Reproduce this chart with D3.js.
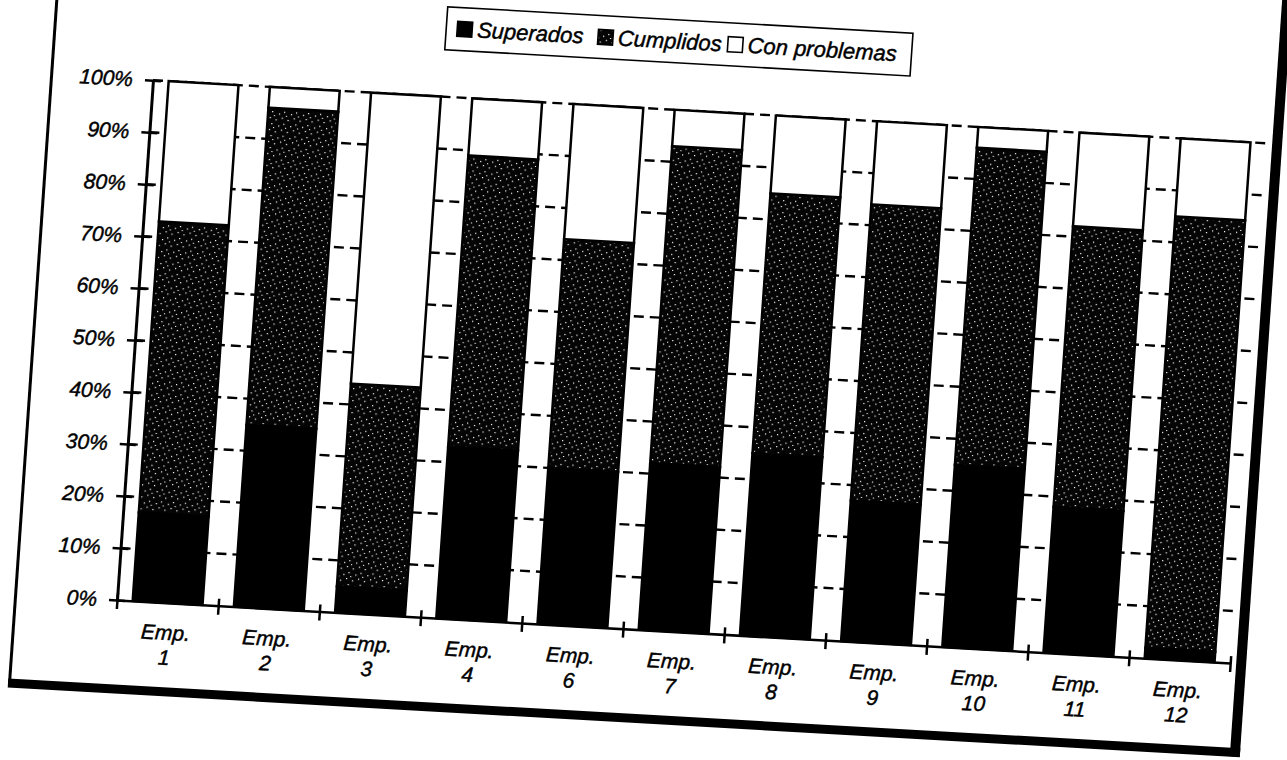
<!DOCTYPE html>
<html>
<head>
<meta charset="utf-8">
<script src="https://cdn.jsdelivr.net/npm/d3@7/dist/d3.min.js"></script>
<style>
  html, body { margin: 0; padding: 0; background: #fff; }
  svg { display: block; }
  text { font-family: "Liberation Sans", Arial, Helvetica, sans-serif; font-style: italic; fill: #000; stroke: #000; stroke-width: 0.45px; }
</style>
</head>
<body>
<svg id="chart" width="1287" height="760"></svg>
<script>
// ---- data (percent of each company's total) ----
const categories   = ["Emp. 1", "Emp. 2", "Emp. 3", "Emp. 4", "Emp. 6", "Emp. 7", "Emp. 8", "Emp. 9", "Emp. 10", "Emp. 11", "Emp. 12"];
const superados    = [17, 35,  5, 33, 30, 32, 35, 27, 35, 28,  2];
const cumplidos    = [56, 61, 39, 56, 44, 61, 50, 57, 61, 54, 83];
const conProblemas = [27,  4, 56, 11, 26,  7, 15, 16,  4, 18, 15];
const seriesNames  = ["Superados", "Cumplidos", "Con problemas"];
const yTickValues  = [0, 10, 20, 30, 40, 50, 60, 70, 80, 90, 100];

// ---- layout ----
const W = 1287, H = 760;
const plot = { left: 117, right: 1232, top: 79, bottom: 600 };

const svg = d3.select("#chart");
svg.append("rect").attr("width", W).attr("height", H).attr("fill", "#fff");

// dotted fill used for "Cumplidos"
const defs = svg.append("defs");
const pat = defs.append("pattern")
  .attr("id", "dotted")
  .attr("patternUnits", "userSpaceOnUse")
  .attr("width", 12).attr("height", 12);
pat.append("rect").attr("width", 12).attr("height", 12).attr("fill", "#050505");
[[2, 3], [8, 1], [10, 7], [5, 9], [0, 11]].forEach(([px, py]) => {
  pat.append("rect").attr("x", px).attr("y", py).attr("width", 1.2).attr("height", 1.2).attr("fill", "#fff");
});
const fills = { "Superados": "#000", "Cumplidos": "url(#dotted)", "Con problemas": "#fff" };

// the whole sheet sits slightly tilted on the page
const tiltX = 3.24 * Math.PI / 180, tiltY = 3.96 * Math.PI / 180;
const page = svg.append("g")
  .attr("transform",
    `translate(${plot.left},${plot.bottom}) matrix(${Math.cos(tiltX)},${Math.sin(tiltX)},${-Math.sin(tiltY)},${Math.cos(tiltY)},0,0) translate(${-plot.left},${-plot.bottom})`);

// ---- scales ----
const x = d3.scaleBand()
  .domain(categories)
  .range([plot.left, plot.right])
  .paddingInner(0.31)
  .paddingOuter(0.155);
const xEdges = d3.scaleLinear().domain([0, categories.length]).range([plot.left, plot.right]);
const y = d3.scaleLinear().domain([0, 100]).range([plot.bottom, plot.top]);

// ---- chart area frame (thin left edge, heavy shadowed bottom/right) ----
const frame = page.append("g").attr("fill", "none").attr("stroke", "#000");
frame.append("line").attr("x1", 15.5).attr("y1", -90).attr("x2", 15.5).attr("y2", 690).attr("stroke-width", 3);
frame.append("line").attr("x1", 14).attr("y1", 689).attr("x2", 1248).attr("y2", 689).attr("stroke-width", 9);
frame.append("line").attr("x1", 1243).attr("y1", -90).attr("x2", 1243).attr("y2", 693).attr("stroke-width", 10);

// ---- dashed gridlines ----
page.append("g")
  .selectAll("line")
  .data(yTickValues.filter(v => v > 0))
  .join("line")
  .attr("x1", plot.left).attr("x2", plot.right)
  .attr("y1", d => y(d)).attr("y2", d => y(d))
  .attr("stroke", "#000").attr("stroke-width", 2.4)
  .attr("stroke-dasharray", "10,6");

// ---- stacked columns ----
const rows = categories.map((c, i) => ({
  cat: c,
  "Superados": superados[i],
  "Cumplidos": cumplidos[i],
  "Con problemas": conProblemas[i]
}));
const stacked = d3.stack().keys(seriesNames)(rows);

page.append("g")
  .selectAll("g")
  .data(stacked)
  .join("g")
  .attr("fill", s => fills[s.key])
  .selectAll("rect")
  .data(s => s)
  .join("rect")
  .attr("x", d => x(d.data.cat))
  .attr("width", x.bandwidth())
  .attr("y", d => y(d[1]))
  .attr("height", d => y(d[0]) - y(d[1]))
  .attr("stroke", "#000")
  .attr("stroke-width", 2.5);

// ---- y axis ----
const yAxis = page.append("g")
  .attr("transform", `translate(${plot.left},0)`)
  .call(d3.axisLeft(y).tickValues(yTickValues).tickFormat(d => d + "%")
    .tickSize(8).tickSizeOuter(0).tickPadding(12));
yAxis.attr("font-size", 21);
yAxis.select(".domain").attr("stroke-width", 3);
yAxis.selectAll(".tick line").attr("x1", 8).attr("stroke-width", 2.5);

// ---- x axis: boundary ticks ----
const xTicks = page.append("g")
  .attr("transform", `translate(0,${plot.bottom})`)
  .call(d3.axisBottom(xEdges).tickValues(d3.range(categories.length + 1))
    .tickFormat(() => "").tickSize(9).tickSizeOuter(0));
xTicks.select(".domain").attr("stroke-width", 2.5);
xTicks.selectAll(".tick line").attr("y1", -7).attr("stroke-width", 2.5);

// ---- x axis: two-line category labels ----
const xLabels = page.append("g")
  .attr("transform", `translate(0,${plot.bottom})`)
  .call(d3.axisBottom(x).tickSize(0).tickSizeOuter(0));
xLabels.attr("font-size", 21);
xLabels.select(".domain").remove();
xLabels.selectAll(".tick text").each(function (d) {
  const parts = d.split(" ");
  const t = d3.select(this).text(null).attr("y", null).attr("dy", null);
  t.append("tspan").attr("x", 0).attr("y", 37).text(parts[0]);
  t.append("tspan").attr("x", 0).attr("y", 62).text(parts[1]);
});

// ---- legend ----
const legend = page.append("g");
legend.append("rect")
  .attr("x", 406).attr("y", -11).attr("width", 466).attr("height", 43)
  .attr("fill", "#fff").attr("stroke", "#000").attr("stroke-width", 1.6);
const legendX = [417, 558, 688];
const items = legend.selectAll("g.item")
  .data(seriesNames)
  .join("g")
  .attr("class", "item")
  .attr("transform", (d, i) => `translate(${legendX[i]},0)`);
items.append("rect")
  .attr("x", 0).attr("y", 3).attr("width", 15).attr("height", 15)
  .attr("fill", d => fills[d]).attr("stroke", "#000").attr("stroke-width", 1.6);
items.append("text")
  .attr("x", 20).attr("y", 18)
  .attr("font-size", 22)
  .text(d => d);
</script>
</body>
</html>
